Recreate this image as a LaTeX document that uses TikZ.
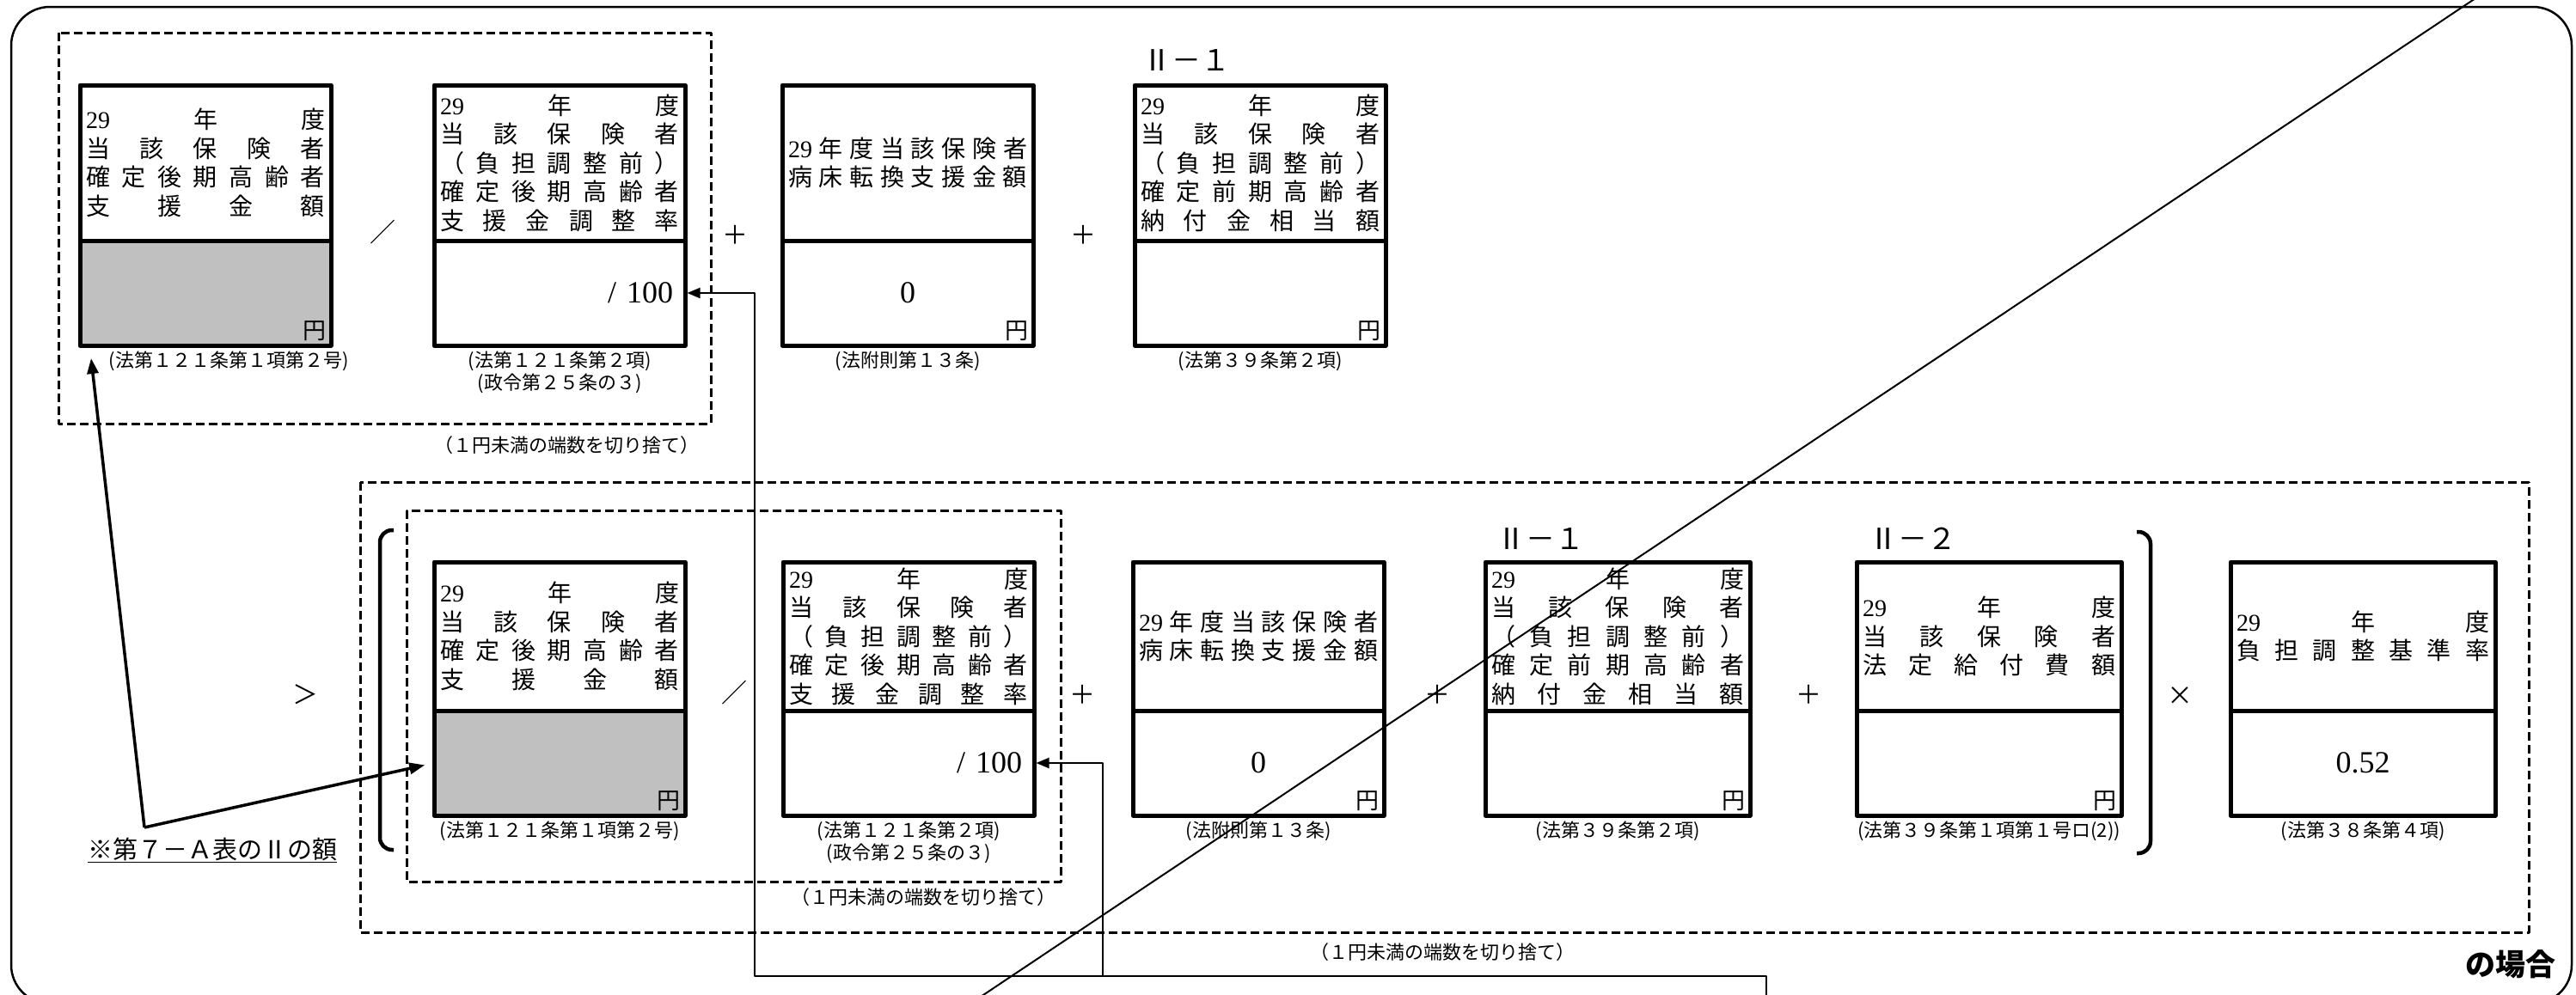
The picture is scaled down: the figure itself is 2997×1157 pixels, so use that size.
\documentclass[tikz,border=0pt]{standalone}
\usepackage{fontspec}
\setmainfont{Liberation Serif}
\newfontfamily\jp{Noto Sans CJK JP}
\usetikzlibrary{positioning, calc, arrows.meta}
\definecolor{valgray}{RGB}{192,192,192}

% spread the characters of one line over the whole cell width
\newcommand\spr[1]{\makebox[\linewidth][s]{\sprnext#1\relax}}
\def\sprnext#1#2{#1\ifx\relax#2\else\hfill\expandafter\sprnext\expandafter#2\fi}
\newcommand\nen{{\rmfamily 29}}

\newcommand\headfont{\jp\fontsize{28pt}{33.5pt}\selectfont}
\newcommand\capfont{\jp\fontsize{22pt}{26pt}\selectfont}
\newcommand\numfont{\rmfamily\fontsize{36pt}{40pt}\selectfont}
\newcommand\opfont{\jp\fontsize{30pt}{34pt}\selectfont}

\tikzset{
  head/.style={draw, line width=5pt, outer sep=0pt, inner sep=0pt,
    minimum width=292pt, text width=278pt, align=center, font=\headfont},
  rowA/.style={minimum height=181pt},
  rowB/.style={minimum height=173pt},
  wide/.style={minimum width=308pt, text width=294pt},
  val/.style={draw, line width=5pt, outer sep=0pt, inner sep=0pt,
    minimum width=292pt, text width=264pt, minimum height=122pt,
    align=center, font=\numfont},
  yen/.style={font=\jp\fontsize{27pt}{30pt}\selectfont, anchor=south east, inner xsep=5pt, inner ysep=5pt},
  lawcap/.style={font=\capfont, align=center, inner sep=2pt},
  op/.style={font=\opfont},
  roman/.style={font=\jp\fontsize{34pt}{38pt}\selectfont},
  group/.style={line width=3pt, dash pattern=on 10pt off 5pt},
  link/.style={line width=2pt, shorten >=2.5pt, -{Triangle[length=15pt,width=12pt]}},
  pointer/.style={line width=3.5pt, -{Triangle[length=18pt,width=13pt]}},
}

\begin{document}
\begin{tikzpicture}[x=1pt, y=-1pt, line join=round]

    \useasboundingbox (0,0) rectangle (2997,1157);
    \clip (0,0) rectangle (2997,1157);

    % outer frame, cut by the page edge below
    \draw[line width=2.5pt, rounded corners=45pt] (13,8) rectangle (2992,1168);

    % ---- upper row ----
    \node[head, rowA, anchor=north west] (shienA) at (93,99)
      {\spr{\nen 年度}\\\spr{当該保険者}\\\spr{確定後期高齢者}\\\spr{支援金額}};
    \node[val, below=0pt of shienA, fill=valgray] (shienAv) {};
    \node[yen] (yenA1) at (shienAv.south east) {円};
    \node[lawcap, below=5pt of shienAv, xshift=27pt] (capA1) {(法第１２１条第１項第２号)};

    \node[head, rowA, anchor=north west] (chouseiA) at (505,99)
      {\spr{\nen 年度}\\\spr{当該保険者}\\\spr{（負担調整前）}\\\spr{確定後期高齢者}\\\spr{支援金調整率}};
    \node[val, below=0pt of chouseiA, align=right] (chouseiAv) {/ 100};
    \node[lawcap, below=5pt of chouseiAv] (capA2) {(法第１２１条第２項)\\(政令第２５条の３)};

    \node[head, rowA, anchor=north west] (byoushouA) at (910,99)
      {\spr{\nen 年度当該保険者}\\\spr{病床転換支援金額}};
    \node[val, below=0pt of byoushouA] (byoushouAv) {0};
    \node[yen] (yenA3) at (byoushouAv.south east) {円};
    \node[lawcap, below=5pt of byoushouAv] (capA3) {(法附則第１３条)};

    \node[head, rowA, anchor=north west] (noufuA) at (1320,99)
      {\spr{\nen 年度}\\\spr{当該保険者}\\\spr{（負担調整前）}\\\spr{確定前期高齢者}\\\spr{納付金相当額}};
    \node[val, below=0pt of noufuA] (noufuAv) {};
    \node[yen] (yenA4) at (noufuAv.south east) {円};
    \node[lawcap, below=5pt of noufuAv] (capA4) {(法第３９条第２項)};
    \node[roman] (romanA) at (1380,70) {Ⅱ－１};

    \node[op] (slashA) at (445,270) {／};
    \node[op] (plusA1) at (855,273) {＋};
    \node[op] (plusA2) at (1260,273) {＋};

    \draw[group] (68,38) rectangle (827,493);
    \node[lawcap] (kirisuteA) at (659,518) {（１円未満の端数を切り捨て）};

    % ---- lower row ----
    \node[head, rowB, anchor=north west] (shienB) at (505,654)
      {\spr{\nen 年度}\\\spr{当該保険者}\\\spr{確定後期高齢者}\\\spr{支援金額}};
    \node[val, below=0pt of shienB, fill=valgray] (shienBv) {};
    \node[yen] (yenB1) at (shienBv.south east) {円};
    \node[lawcap, below=5pt of shienBv] (capB1) {(法第１２１条第１項第２号)};

    \node[head, rowB, anchor=north west] (chouseiB) at (911,654)
      {\spr{\nen 年度}\\\spr{当該保険者}\\\spr{（負担調整前）}\\\spr{確定後期高齢者}\\\spr{支援金調整率}};
    \node[val, below=0pt of chouseiB, align=right] (chouseiBv) {/ 100};
    \node[lawcap, below=5pt of chouseiBv] (capB2) {(法第１２１条第２項)\\(政令第２５条の３)};

    \node[head, rowB, anchor=north west] (byoushouB) at (1318,654)
      {\spr{\nen 年度当該保険者}\\\spr{病床転換支援金額}};
    \node[val, below=0pt of byoushouB] (byoushouBv) {0};
    \node[yen] (yenB3) at (byoushouBv.south east) {円};
    \node[lawcap, below=5pt of byoushouBv] (capB3) {(法附則第１３条)};

    \node[head, rowB, wide, anchor=north west] (noufuB) at (1728,654)
      {\spr{\nen 年度}\\\spr{当該保険者}\\\spr{（負担調整前）}\\\spr{確定前期高齢者}\\\spr{納付金相当額}};
    \node[val, wide, below=0pt of noufuB] (noufuBv) {};
    \node[yen] (yenB4) at (noufuBv.south east) {円};
    \node[lawcap, below=5pt of noufuBv] (capB4) {(法第３９条第２項)};
    \node[roman] (romanB1) at (1792,627) {Ⅱ－１};

    \node[head, rowB, wide, anchor=north west] (kyuufuB) at (2160,654)
      {\spr{\nen 年度}\\\spr{当該保険者}\\\spr{法定給付費額}};
    \node[val, wide, below=0pt of kyuufuB] (kyuufuBv) {};
    \node[yen] (yenB5) at (kyuufuBv.south east) {円};
    \node[lawcap, below=5pt of kyuufuBv] (capB5) {(法第３９条第１項第１号ロ(2))};
    \node[roman] (romanB2) at (2225,627) {Ⅱ－２};

    \node[head, rowB, wide, anchor=north west] (kijunB) at (2595,654)
      {\spr{\nen 年度}\\\spr{負担調整基準率}};
    \node[val, wide, below=0pt of kijunB] (kijunBv) {0.52};
    \node[lawcap, below=5pt of kijunBv] (capB6) {(法第３８条第４項)};

    \node[op] (gtB) at (355,808) {＞};
    \node[op] (slashB) at (854,806) {／};
    \node[op] (plusB1) at (1259,808) {＋};
    \node[op] (plusB2) at (1672,808) {＋};
    \node[op] (plusB3) at (2104,808) {＋};
    \node[op] (timesB) at (2536,810) {×};

    % brackets round the sum
    \draw[line width=4.5pt, rounded corners=14pt] (458,617) -- (442,617) -- (442,989) -- (458,989);
    \draw[line width=4.5pt, rounded corners=14pt] (2486,619) -- (2502,619) -- (2502,993) -- (2486,993);

    \draw[group] (473,594) rectangle (1234,1026);
    \draw[group] (419,561) rectangle (2942,1085);
    \node[lawcap] (kirisuteB) at (1074,1044) {（１円未満の端数を切り捨て）};
    \node[lawcap] (kirisuteC) at (1678,1108) {（１円未満の端数を切り捨て）};

    % note and its two pointers
    \node[font=\jp\fontsize{29pt}{34pt}\selectfont] (note) at (247,989) {\underline{※第７－Ａ表のⅡの額}};
    \coordinate (V) at (168,963);
    \draw[pointer] (V) -- ($(shienAv.south west)+(13,15)$);
    \draw[pointer, shorten >=11pt] (V) -- (shienBv.west);

    % feed lines into the adjustment rates
    \coordinate (feedOut)  at (2055,1180);
    \coordinate (feedTurn) at (2055,1136);
    \coordinate (feedLeft) at (878,1136);
    \coordinate (feedMid)  at (1283,1136);
    \draw[link] (feedOut) -- (feedTurn) -- (feedLeft) |- (chouseiAv.east);
    \draw[link] (feedMid) |- (chouseiBv.east);

    \node[font=\jp\bfseries\fontsize{35pt}{40pt}\selectfont] (baai) at (2921,1122) {の場合};

    % strike-through line across the page
    \coordinate (strikeTop) at (2907,-20);
    \coordinate (strikeBot) at (1111,1180);
    \draw[line width=2pt] (strikeTop) -- (strikeBot);

\end{tikzpicture}
\end{document}
